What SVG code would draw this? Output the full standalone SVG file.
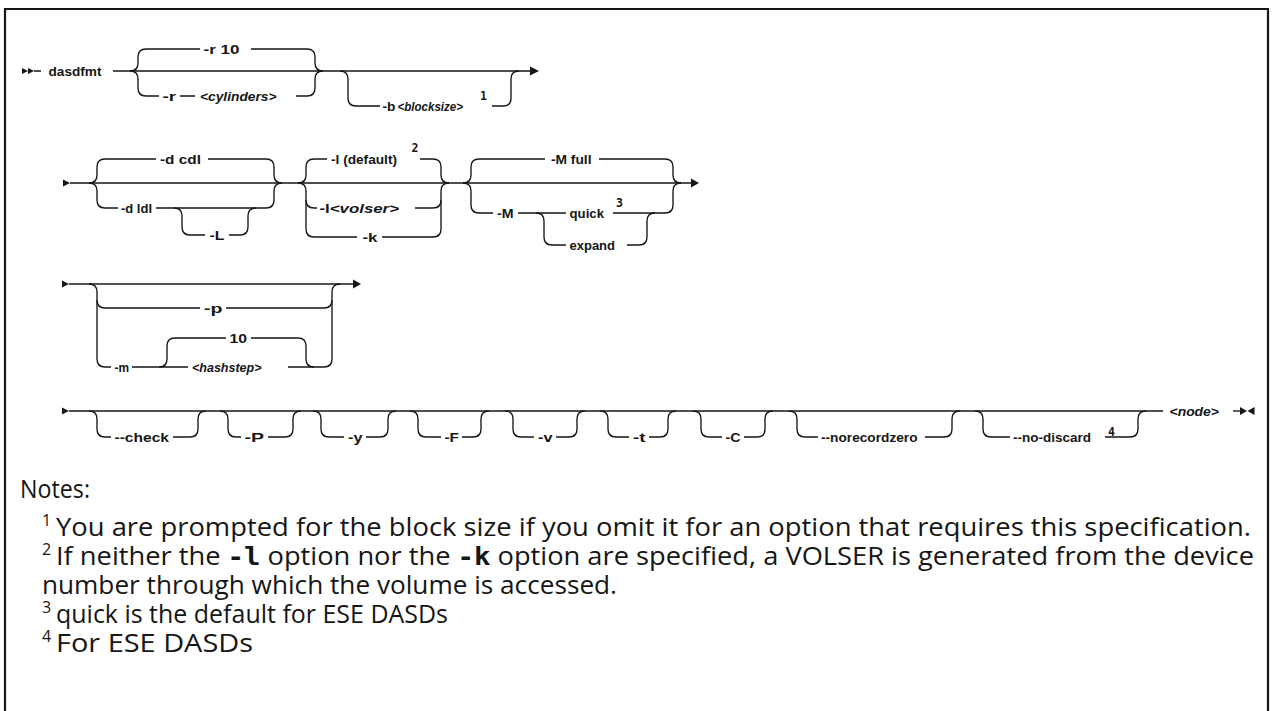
<svg xmlns="http://www.w3.org/2000/svg" width="1273" height="711" viewBox="0 0 1273 711">
<style>
.c{fill:none;stroke:#161616;stroke-width:1.35}
.a{fill:#161616;stroke:none}
.k{font-family:"Liberation Sans",Arial,sans-serif;font-weight:700;font-size:12.5px;fill:#161616}
.i{font-style:italic}
.s{font-family:"DejaVu Sans Mono","Liberation Mono",monospace;font-weight:700;font-size:11.5px;fill:#161616}
.n{font-family:"Open Sans","Noto Sans",sans-serif;font-size:25.5px;fill:#161616}
.m{font-family:"DejaVu Sans Mono","Liberation Mono",monospace;font-weight:700}
.ns{font-family:"Open Sans","Noto Sans",sans-serif;font-size:16px;fill:#161616}
.fr{fill:none;stroke:#161616;stroke-width:2.2}
</style>
<rect x="0" y="0" width="1273" height="711" fill="#ffffff"/>
<path id="frame" class="fr" d="M5,711 V9 H1268 V711"/>

<g id="connectors">
  <!-- row 1 -->
  <polygon class="a" points="22,68 28,71 22,74"/>
  <polygon class="a" points="28,68 34,71 28,74"/>
  <path class="c" d="M34,71 H41 M113,71 H531"/>
  <polygon class="a" points="530,66.5 539,71 530,75.5"/>
  <path class="c" d="M130,71 Q138,71 138,63 V57 Q138,49 146,49 H200 M251,49 H307 Q315,49 315,57 V63 Q315,71 323,71"/>
  <path class="c" d="M130,71 Q138,71 138,79 V88 Q138,96 146,96 H159 M180,96 H195 M296,96 H307 Q315,96 315,88 V79 Q315,71 323,71"/>
  <path class="c" d="M340,71 Q348,71 348,79 V98 Q348,106 356,106 H380 M492,106 H503 Q511,106 511,98 V79 Q511,71 519,71"/>

  <!-- row 2 -->
  <polygon class="a" points="63,179.5 70,183 63,186.5"/>
  <path class="c" d="M70,183 H692"/>
  <polygon class="a" points="691,178.5 699,183 691,187.5"/>
  <path class="c" d="M89,183 Q97,183 97,175 V167 Q97,159 105,159 H156 M208,159 H266 Q274,159 274,167 V175 Q274,183 282,183"/>
  <path class="c" d="M89,183 Q97,183 97,191 V200 Q97,208 105,208 H118 M156,208 H266 Q274,208 274,200 V191 Q274,183 282,183"/>
  <path class="c" d="M174,208 Q182,208 182,216 V227 Q182,235 190,235 H205 M229,235 H240 Q248,235 248,227 V216 Q248,208 256,208"/>
  <path class="c" d="M298,183 Q306,183 306,175 V167 Q306,159 314,159 H327 M420,159 H433 Q441,159 441,167 V175 Q441,183 449,183"/>
  <path class="c" d="M298,183 Q306,183 306,191 V229 Q306,237 314,237 H357 M382,237 H433 Q441,237 441,229 V191 Q441,183 449,183"/>
  <path class="c" d="M306,200 Q306,208 314,208 H317 M415,208 H433 Q441,208 441,200"/>
  <path class="c" d="M463,183 Q471,183 471,175 V167 Q471,159 479,159 H545 M599,159 H665 Q673,159 673,167 V175 Q673,183 681,183"/>
  <path class="c" d="M463,183 Q471,183 471,191 V205 Q471,213 479,213 H493 M518,213 H566 M613,213 H665 Q673,213 673,205 V191 Q673,183 681,183"/>
  <path class="c" d="M536,213 Q544,213 544,221 V237 Q544,245 552,245 H566 M627,245 H639 Q647,245 647,237 V221 Q647,213 655,213"/>

  <!-- row 3 -->
  <polygon class="a" points="62,280.5 69,284 62,287.5"/>
  <path class="c" d="M69,284 H354"/>
  <polygon class="a" points="353,279.5 361,284 353,288.5"/>
  <path class="c" d="M89,284 Q97,284 97,292 V359 Q97,367 105,367 H111 M132,367 H188 M288,367 H324 Q332,367 332,359 V292 Q332,284 340,284"/>
  <path class="c" d="M97,300 Q97,308 105,308 H200 M226,308 H324 Q332,308 332,300"/>
  <path class="c" d="M159,367 Q167,367 167,359 V346 Q167,338 175,338 H226 M251,338 H298 Q306,338 306,346 V359 Q306,367 314,367"/>

  <!-- row 4 -->
  <polygon class="a" points="62,407.5 69,411 62,414.5"/>
  <path class="c" d="M69,411 H1163"/>
  <path class="c" d="M89,411 Q97,411 97,419 V429 Q97,437 105,437 H111 M173,437 H190 Q198,437 198,429 V419 Q198,411 206,411"/>
  <path class="c" d="M220,411 Q228,411 228,419 V429 Q228,437 236,437 H241 M268,437 H285 Q293,437 293,429 V419 Q293,411 301,411"/>
  <path class="c" d="M313,411 Q321,411 321,419 V429 Q321,437 329,437 H344 M366,437 H380 Q388,437 388,429 V419 Q388,411 396,411"/>
  <path class="c" d="M410,411 Q418,411 418,419 V429 Q418,437 426,437 H441 M462,437 H473 Q481,437 481,429 V419 Q481,411 489,411"/>
  <path class="c" d="M505,411 Q513,411 513,419 V429 Q513,437 521,437 H534 M556,437 H569 Q577,437 577,429 V419 Q577,411 585,411"/>
  <path class="c" d="M600,411 Q608,411 608,419 V429 Q608,437 616,437 H629 M649,437 H660 Q668,437 668,429 V419 Q668,411 676,411"/>
  <path class="c" d="M693,411 Q701,411 701,419 V429 Q701,437 709,437 H722 M744,437 H757 Q765,437 765,429 V419 Q765,411 773,411"/>
  <path class="c" d="M789,411 Q797,411 797,419 V429 Q797,437 805,437 H818 M925,437 H944 Q952,437 952,429 V419 Q952,411 960,411"/>
  <path class="c" d="M975,411 Q983,411 983,419 V429 Q983,437 991,437 H1010 M1105,437 H1130 Q1138,437 1138,429 V419 Q1138,411 1146,411"/>
  <path class="c" d="M1233,411 H1241"/>
  <polygon class="a" points="1240,407 1247,411 1240,415"/>
  <polygon class="a" points="1254.5,407 1247.5,411 1254.5,415"/>
</g>

<g id="n-dasdfmt"><text class="k" x="48.5" y="75.5" textLength="53" lengthAdjust="spacingAndGlyphs">dasdfmt</text></g>
<g id="n-r10"><text class="k" x="203.5" y="53.5" textLength="36" lengthAdjust="spacingAndGlyphs">-r 10</text></g>
<g id="n-r"><text class="k" x="162.5" y="100.5" textLength="13.5" lengthAdjust="spacingAndGlyphs">-r</text></g>
<g id="n-cylinders"><text class="k i" x="200" y="100.5" textLength="76.5" lengthAdjust="spacingAndGlyphs">&lt;cylinders&gt;</text></g>
<g id="n-b"><text class="k" x="382.5" y="110.5" textLength="13" lengthAdjust="spacingAndGlyphs">-b</text><text class="k i" x="397.5" y="110.5" textLength="65.5" lengthAdjust="spacingAndGlyphs">&lt;blocksize&gt;</text><text class="s" x="480" y="100">1</text></g>

<g id="n-dcdl"><text class="k" x="160" y="163.5" textLength="41" lengthAdjust="spacingAndGlyphs">-d cdl</text></g>
<g id="n-dldl"><text class="k" x="121" y="212.5" textLength="31" lengthAdjust="spacingAndGlyphs">-d ldl</text></g>
<g id="n-L"><text class="k" x="209.5" y="239.5" textLength="15" lengthAdjust="spacingAndGlyphs">-L</text></g>
<g id="n-ldefault"><text class="k" x="331" y="163.5" textLength="66" lengthAdjust="spacingAndGlyphs">-l (default)</text><text class="s" x="411.5" y="152">2</text></g>
<g id="n-lvolser"><text class="k" x="319.5" y="212.5" textLength="79.5" lengthAdjust="spacingAndGlyphs">-l<tspan class="i">&lt;volser&gt;</tspan></text></g>
<g id="n-k"><text class="k" x="362.5" y="241.5" textLength="15" lengthAdjust="spacingAndGlyphs">-k</text></g>
<g id="n-Mfull"><text class="k" x="551" y="163.5" textLength="40.5" lengthAdjust="spacingAndGlyphs">-M full</text></g>
<g id="n-M"><text class="k" x="497" y="217.5" textLength="16.5" lengthAdjust="spacingAndGlyphs">-M</text></g>
<g id="n-quick"><text class="k" x="569.5" y="217.5" textLength="34.5" lengthAdjust="spacingAndGlyphs">quick</text><text class="s" x="616" y="207">3</text></g>
<g id="n-expand"><text class="k" x="569.5" y="249.5" textLength="45.5" lengthAdjust="spacingAndGlyphs">expand</text></g>

<g id="n-p"><text class="k" x="204" y="312.5" textLength="18.5" lengthAdjust="spacingAndGlyphs">-p</text></g>
<g id="n-m"><text class="k" x="114.5" y="371.5" textLength="14.5" lengthAdjust="spacingAndGlyphs">-m</text></g>
<g id="n-10"><text class="k" x="229.5" y="342.5" textLength="17.5" lengthAdjust="spacingAndGlyphs">10</text></g>
<g id="n-hashstep"><text class="k i" x="192" y="371.5" textLength="69.5" lengthAdjust="spacingAndGlyphs">&lt;hashstep&gt;</text></g>

<g id="n-check"><text class="k" x="114.5" y="441.5" textLength="54.5" lengthAdjust="spacingAndGlyphs">--check</text></g>
<g id="n-P"><text class="k" x="244.5" y="441.5" textLength="19.5" lengthAdjust="spacingAndGlyphs">-P</text></g>
<g id="n-y"><text class="k" x="348" y="441.5" textLength="14.5" lengthAdjust="spacingAndGlyphs">-y</text></g>
<g id="n-F"><text class="k" x="444.5" y="441.5" textLength="14.5" lengthAdjust="spacingAndGlyphs">-F</text></g>
<g id="n-v"><text class="k" x="538" y="441.5" textLength="14.5" lengthAdjust="spacingAndGlyphs">-v</text></g>
<g id="n-t"><text class="k" x="633" y="441.5" textLength="12.5" lengthAdjust="spacingAndGlyphs">-t</text></g>
<g id="n-C"><text class="k" x="725.5" y="441.5" textLength="15" lengthAdjust="spacingAndGlyphs">-C</text></g>
<g id="n-norecordzero"><text class="k" x="821" y="441.5" textLength="96.5" lengthAdjust="spacingAndGlyphs">--norecordzero</text></g>
<g id="n-nodiscard"><text class="k" x="1013" y="441.5" textLength="78" lengthAdjust="spacingAndGlyphs">--no-discard</text><text class="s" x="1108" y="436">4</text></g>
<g id="n-node"><text class="k i" x="1169.5" y="415.5" textLength="49.5" lengthAdjust="spacingAndGlyphs">&lt;node&gt;</text></g>

<g id="notes">
  <text class="n" x="20" y="498" textLength="70" lengthAdjust="spacingAndGlyphs">Notes:</text>
  <text class="ns" x="42" y="526">1</text>
  <text class="n" x="56" y="536" textLength="1195" lengthAdjust="spacingAndGlyphs">You are prompted for the block size if you omit it for an option that requires this specification.</text>
  <text class="ns" x="42" y="555">2</text>
  <text class="n" x="56" y="565" textLength="1198" lengthAdjust="spacingAndGlyphs">If neither the <tspan class="m">-l</tspan> option nor the <tspan class="m">-k</tspan> option are specified, a VOLSER is generated from the device</text>
  <text class="n" x="42" y="594" textLength="575" lengthAdjust="spacingAndGlyphs">number through which the volume is accessed.</text>
  <text class="ns" x="42" y="613">3</text>
  <text class="n" x="56" y="623" textLength="392" lengthAdjust="spacingAndGlyphs">quick is the default for ESE DASDs</text>
  <text class="ns" x="42" y="642">4</text>
  <text class="n" x="56" y="652" textLength="197" lengthAdjust="spacingAndGlyphs">For ESE DASDs</text>
</g>
</svg>
